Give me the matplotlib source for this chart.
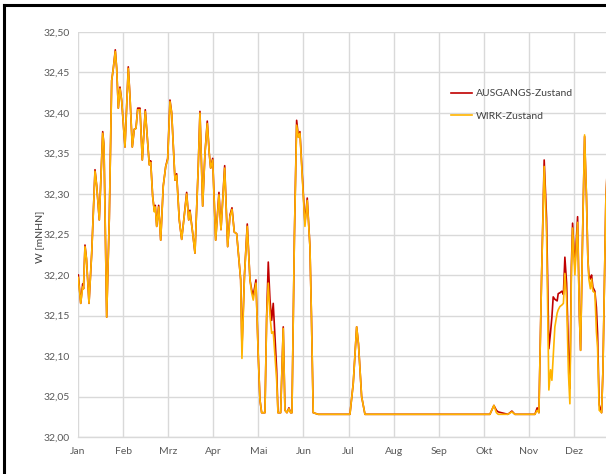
import matplotlib.pyplot as plt
from matplotlib.lines import Line2D

# time axis in months (0 = start of Jan), values in m NHN
t_month = [0.007, 0.060, 0.104, 0.122, 0.155, 0.188, 0.244, 0.304, 0.377, 0.415,
           0.472, 0.548, 0.576, 0.636, 0.694, 0.747, 0.783, 0.827, 0.858, 0.894,
           0.931, 0.969, 1.042, 1.115, 1.153, 1.204, 1.248, 1.286, 1.324, 1.375,
           1.426, 1.492, 1.537, 1.581, 1.612, 1.656, 1.692, 1.714, 1.745, 1.789,
           1.834, 1.891, 1.945, 1.989, 2.040, 2.078, 2.151, 2.188, 2.246, 2.299,
           2.350, 2.410, 2.455, 2.483, 2.543, 2.594, 2.667, 2.705, 2.765, 2.816,
           2.867, 2.911, 2.942, 2.987, 3.053, 3.126, 3.171, 3.253, 3.319, 3.370,
           3.415, 3.466, 3.519, 3.608, 3.636, 3.692, 3.754, 3.814, 3.851, 3.887,
           3.947, 3.998, 4.035, 4.073, 4.146, 4.184, 4.220, 4.257, 4.295, 4.330,
           4.406, 4.435, 4.494, 4.552, 4.590, 4.634, 4.678, 4.716, 4.745, 4.800,
           4.849, 4.889, 4.922, 5.033, 5.084, 5.144, 5.177, 5.217, 5.328, 6.031,
           6.104, 6.180, 6.220, 6.290, 6.364, 9.135, 9.224, 9.279, 9.319, 9.534,
           9.623, 9.690, 10.133, 10.184, 10.222, 10.282, 10.339, 10.392, 10.443, 10.481,
           10.510, 10.539, 10.576, 10.627, 10.650, 10.687, 10.732, 10.765, 10.798, 10.836,
           10.876, 10.909, 10.942, 10.969, 11.020, 11.080, 11.120, 11.146, 11.191, 11.235,
           11.275, 11.308, 11.330, 11.364, 11.390, 11.419, 11.463, 11.497, 11.523, 11.559,
           11.612, 11.641, 11.707, 11.729]

wirk = [32.197, 32.165, 32.185, 32.183, 32.235, 32.220, 32.165, 32.227, 32.328, 32.310,
        32.268, 32.375, 32.360, 32.148, 32.270, 32.440, 32.455, 32.476, 32.455, 32.406,
        32.430, 32.415, 32.358, 32.455, 32.420, 32.358, 32.380, 32.381, 32.404, 32.404,
        32.342, 32.402, 32.370, 32.336, 32.339, 32.297, 32.278, 32.284, 32.260, 32.284,
        32.243, 32.310, 32.334, 32.342, 32.414, 32.400, 32.317, 32.323, 32.268, 32.244,
        32.270, 32.300, 32.268, 32.278, 32.252, 32.227, 32.334, 32.400, 32.285, 32.350,
        32.387, 32.350, 32.332, 32.342, 32.243, 32.299, 32.256, 32.332, 32.235, 32.272,
        32.281, 32.253, 32.251, 32.194, 32.097, 32.200, 32.260, 32.194, 32.178, 32.169,
        32.190, 32.100, 32.046, 32.030, 32.030, 32.148, 32.190, 32.150, 32.128, 32.130,
        32.070, 32.030, 32.030, 32.134, 32.033, 32.030, 32.035, 32.030, 32.030, 32.250,
        32.385, 32.370, 32.375, 32.260, 32.292, 32.235, 32.150, 32.030, 32.028, 32.028,
        32.066, 32.136, 32.115, 32.050, 32.028, 32.028, 32.039, 32.030, 32.028, 32.028,
        32.031, 32.028, 32.028, 32.033, 32.030, 32.200, 32.334, 32.250, 32.058, 32.083,
        32.070, 32.100, 32.136, 32.153, 32.157, 32.161, 32.163, 32.165, 32.202, 32.170,
        32.080, 32.041, 32.200, 32.258, 32.200, 32.265, 32.150, 32.107, 32.250, 32.373,
        32.300, 32.220, 32.195, 32.183, 32.195, 32.180, 32.178, 32.130, 32.110, 32.033,
        32.030, 32.080, 32.293, 32.320]

ausgang = [32.200, 32.165, 32.189, 32.183, 32.237, 32.220, 32.165, 32.227, 32.330, 32.310,
           32.268, 32.377, 32.360, 32.148, 32.270, 32.440, 32.455, 32.478, 32.455, 32.406,
           32.432, 32.415, 32.358, 32.457, 32.420, 32.358, 32.380, 32.381, 32.406, 32.406,
           32.342, 32.404, 32.370, 32.336, 32.341, 32.297, 32.280, 32.286, 32.260, 32.286,
           32.243, 32.310, 32.334, 32.344, 32.416, 32.400, 32.317, 32.325, 32.268, 32.244,
           32.270, 32.302, 32.268, 32.280, 32.252, 32.227, 32.334, 32.402, 32.285, 32.350,
           32.390, 32.350, 32.332, 32.344, 32.243, 32.302, 32.256, 32.335, 32.235, 32.274,
           32.283, 32.253, 32.251, 32.194, 32.110, 32.200, 32.263, 32.194, 32.182, 32.175,
           32.194, 32.100, 32.046, 32.030, 32.030, 32.150, 32.216, 32.170, 32.144, 32.165,
           32.083, 32.030, 32.030, 32.136, 32.033, 32.030, 32.036, 32.030, 32.030, 32.250,
           32.391, 32.370, 32.377, 32.264, 32.295, 32.235, 32.150, 32.030, 32.028, 32.028,
           32.066, 32.136, 32.115, 32.050, 32.028, 32.028, 32.039, 32.033, 32.031, 32.028,
           32.032, 32.028, 32.028, 32.036, 32.030, 32.200, 32.342, 32.270, 32.109, 32.130,
           32.148, 32.173, 32.170, 32.168, 32.177, 32.178, 32.180, 32.176, 32.222, 32.190,
           32.110, 32.060, 32.210, 32.264, 32.210, 32.272, 32.150, 32.107, 32.250, 32.371,
           32.300, 32.220, 32.200, 32.195, 32.200, 32.185, 32.180, 32.160, 32.128, 32.040,
           32.030, 32.080, 32.293, 32.320]

months = ["Jan", "Feb", "Mrz", "Apr", "Mai", "Jun", "Jul", "Aug", "Sep", "Okt", "Nov", "Dez"]
y_ticks = [32.00, 32.05, 32.10, 32.15, 32.20, 32.25, 32.30, 32.35, 32.40, 32.45, 32.50]

plt.rcParams['font.family'] = ['Lato', 'DejaVu Sans']

fig = plt.figure(figsize=(6.06, 4.74), dpi=100)
ax = fig.add_axes([78/606, 37/474, 528/606, 405/474])

ax.plot(t_month, ausgang, color='#C00000', lw=1.2, label='AUSGANGS-Zustand')
ax.plot(t_month, wirk, color='#FFB400', lw=1.2, label='WIRK-Zustand')

ax.set_xlim(0, 11.71)
ax.set_ylim(32.0, 32.5)
ax.set_xticks(range(12))
ax.set_xticklabels(months)
ax.set_yticks(y_ticks)
ax.set_yticklabels([("%.2f" % v).replace('.', ',') for v in y_ticks])
ax.tick_params(length=0, labelsize=7.5, colors='#595959')
ax.tick_params(axis='y', pad=6)
ax.tick_params(axis='x', pad=7.5)
ax.grid(True, color='#D9D9D9', lw=1.0)
ax.set_axisbelow(True)
for s in ['top', 'right', 'left']:
    ax.spines[s].set_visible(False)
ax.spines['bottom'].set_color('#D9D9D9')
ax.spines['bottom'].set_linewidth(1.0)

fig.text(40/606, 1 - 237/474, 'W [mNHN]', rotation=90, ha='center', va='center',
         fontsize=7.5, color='#404040')

ax.legend(loc='upper left', bbox_to_anchor=(451/606, 1 - 89/474),
          bbox_transform=fig.transFigure, frameon=False, fontsize=7.5,
          handlelength=2.0, handletextpad=0.4, labelspacing=1.3,
          borderpad=0, borderaxespad=0, labelcolor='#404040')

# outer frame (cut off at right and bottom)
fig.add_artist(Line2D([4/606, 1], [1 - 4.5/474, 1 - 4.5/474], color='black', lw=2.2,
                      transform=fig.transFigure))
fig.add_artist(Line2D([4/606, 4/606], [0, 1 - 4.5/474], color='black', lw=2.2,
                      transform=fig.transFigure))

fig.savefig('out.png', dpi=100)
